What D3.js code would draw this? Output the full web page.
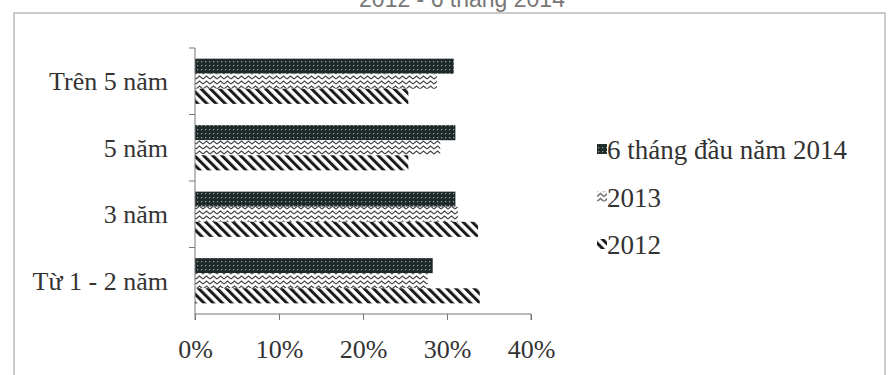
<!DOCTYPE html>
<html><head><meta charset="utf-8">
<script src="https://cdn.jsdelivr.net/npm/d3@7"></script>
<style>body{margin:0;background:#fff;} svg{display:block;}</style>
</head><body>
<svg id="c" width="892" height="375"></svg>
<script>
const categories = ["Trên 5 năm", "5 năm", "3 năm", "Từ 1 - 2 năm"];
const seriesNames = ["6 tháng đầu năm 2014", "2013", "2012"];
const values2014 = [30.8, 31.0, 31.0, 28.3];
const values2013 = [28.8, 29.2, 31.3, 27.7];
const values2012 = [25.4, 25.4, 33.7, 33.9];
const xTicks = [0, 10, 20, 30, 40];
const title = "2012 - 6 tháng 2014";

const seriesValues = [values2014, values2013, values2012];
const patternIds = ["pDots", "pZig", "pDiag"];
const serif = "Liberation Serif, Times New Roman, serif";
const fs = 26;

const svg = d3.select("#c");
const defs = svg.append("defs");

const p1 = defs.append("pattern").attr("id","pDots").attr("patternUnits","userSpaceOnUse").attr("width",4).attr("height",4);
p1.append("rect").attr("width",4).attr("height",4).attr("fill","#1e2a2a");
p1.append("rect").attr("x",1).attr("y",1).attr("width",1.2).attr("height",1.2).attr("fill","#9aa6a4");
const p2 = defs.append("pattern").attr("id","pZig").attr("patternUnits","userSpaceOnUse").attr("width",7).attr("height",5);
p2.append("rect").attr("width",7).attr("height",5).attr("fill","#fff");
p2.append("path").attr("d","M0,4 L3.5,1 L7,4").attr("fill","none").attr("stroke","#444").attr("stroke-width",1.1);
const p3 = defs.append("pattern").attr("id","pDiag").attr("patternUnits","userSpaceOnUse").attr("width",6.5).attr("height",6.5).attr("patternTransform","rotate(-45)");
p3.append("rect").attr("width",6.5).attr("height",6.5).attr("fill","#fff");
p3.append("rect").attr("x",0).attr("y",0).attr("width",3).attr("height",6.5).attr("fill","#1a1a1a");

svg.append("rect").attr("x",14).attr("y",13).attr("width",871).attr("height",380)
  .attr("fill","none").attr("stroke","#aaa").attr("stroke-width",1.2);

svg.append("text").attr("x",462).attr("y",7).attr("text-anchor","middle")
  .attr("font-family","Liberation Sans, Arial, sans-serif").attr("font-size",23).attr("fill","#777").text(title);

const x = d3.scaleLinear().domain([0,40]).range([195,531]);
const y = d3.scaleBand().domain(categories).range([48,314]).paddingInner(0.32).paddingOuter(0.16);
const ySub = d3.scaleBand().domain(seriesNames).range([0,y.bandwidth()]);

const g = svg.append("g");
categories.forEach((c,ci)=>{
  seriesNames.forEach((s,si)=>{
    g.append("rect")
      .attr("x", x(0))
      .attr("y", y(c)+ySub(s))
      .attr("width", x(seriesValues[si][ci]) - x(0))
      .attr("height", ySub.bandwidth())
      .attr("fill", `url(#${patternIds[si]})`);
  });
});

const xAxis = d3.axisBottom(x).tickValues(xTicks).tickFormat(d=>d+"%").tickSize(6);
const gx = svg.append("g").attr("transform","translate(0,314)").call(xAxis);
gx.select(".domain").attr("stroke","#777").attr("d","M195,6V0H531V6");
gx.selectAll(".tick line").attr("stroke","#777");
gx.selectAll(".tick text").attr("font-family",serif).attr("y",44).attr("dy","0")
  .attr("font-size",fs).attr("fill","#333");

const ya = svg.append("g");
ya.append("line").attr("x1",195).attr("x2",195).attr("y1",y.range()[0]).attr("y2",y.range()[1]).attr("stroke","#777");
const bounds = categories.map(c=>y(c)-y.step()*y.paddingInner()/2);
bounds.forEach(b=>{
  ya.append("line").attr("x1",189).attr("x2",195).attr("y1",Math.max(b,48)).attr("y2",Math.max(b,48)).attr("stroke","#777");
});
categories.forEach(c=>{
  ya.append("text").attr("x",168).attr("y",y(c)+y.bandwidth()/2).attr("dy","0.35em")
    .attr("text-anchor","end").attr("font-family",serif)
    .attr("font-size",fs).attr("fill","#333").text(c);
});

const legY = d3.scalePoint().domain(seriesNames).range([150,245]);
seriesNames.forEach((s,si)=>{
  const lg = svg.append("g").attr("transform",`translate(597,${legY(s)})`);
  lg.append("rect").attr("x",0).attr("y",-6).attr("width",10).attr("height",10).attr("fill",`url(#${patternIds[si]})`);
  lg.append("text").attr("x",10).attr("y",0).attr("dy","0.35em")
    .attr("font-family",serif).attr("font-size",27).attr("fill","#333").text(s);
});
</script>
</body></html>
